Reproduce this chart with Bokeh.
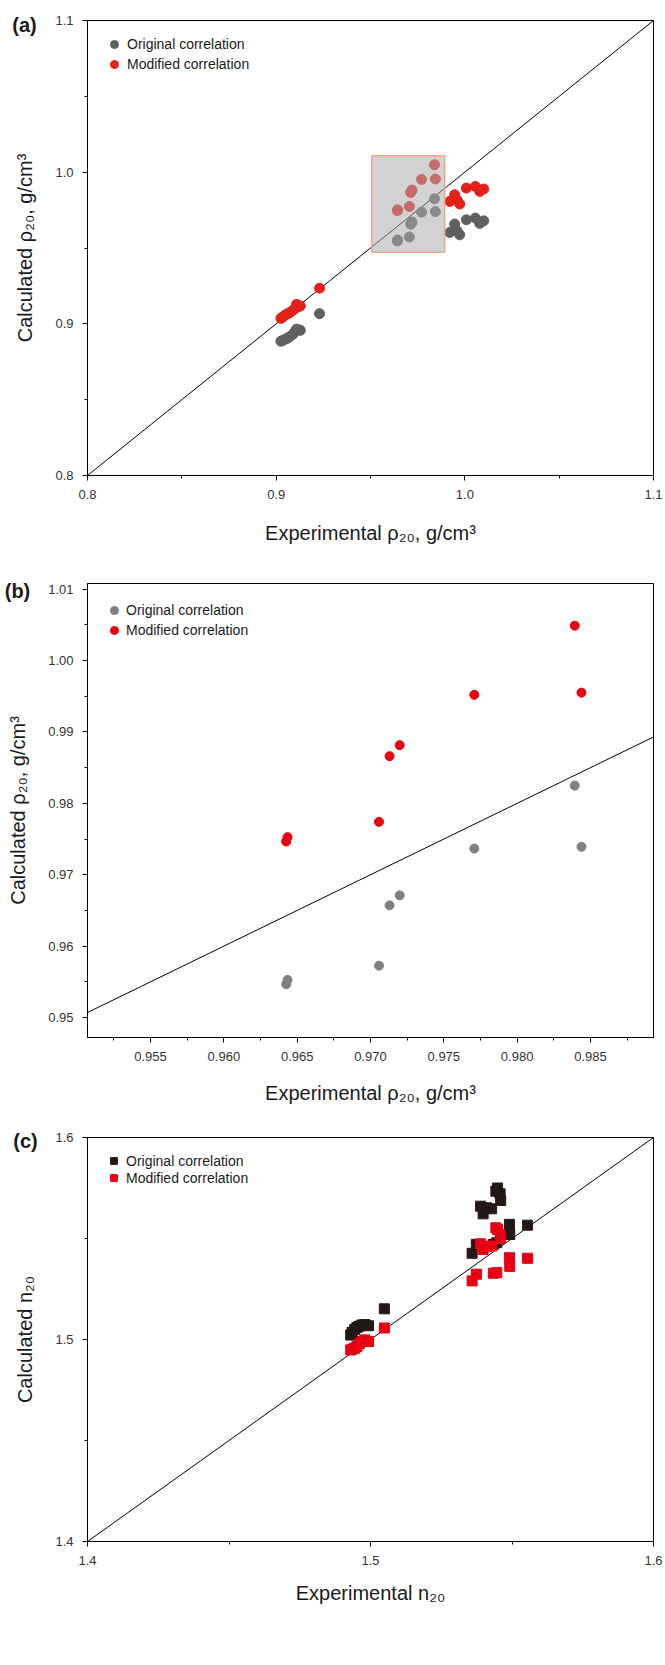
from bokeh.plotting import figure
from bokeh.models import Range1d, FixedTicker, NumeralTickFormatter, ColumnDataSource
from bokeh.core.properties import value
from bokeh.layouts import column
from bokeh.embed import file_html
from bokeh.resources import INLINE

# ---------------- data ----------------
# points inside the highlighted window (panel b, and box of panel a)
exp_box = [0.96425, 0.96434, 0.97058, 0.97130, 0.97199, 0.97708, 0.98393, 0.98439]
orig_box = [0.95466, 0.95526, 0.95726, 0.96571, 0.96711, 0.97367, 0.98249, 0.97392]
mod_box = [0.97466, 0.97526, 0.97741, 0.98661, 0.98815, 0.99521, 1.00489, 0.99551]

# remaining density points of panel a
exp_lo = [0.9025, 0.9035, 0.9048, 0.9060, 0.9072, 0.9088, 0.9100, 0.9108, 0.9120, 0.9128, 0.9230]
orig_lo = [0.8885, 0.8890, 0.8898, 0.8905, 0.8915, 0.8930, 0.8950, 0.8965, 0.8960, 0.8957, 0.9067]
mod_lo = [0.9036, 0.9045, 0.9058, 0.9066, 0.9074, 0.9088, 0.9100, 0.9128, 0.9114, 0.9118, 0.9235]
exp_hi = [0.9920, 0.9946, 0.9959, 0.9973, 1.0008, 1.0056, 1.0079, 1.0100]
orig_hi = [0.9602, 0.9658, 0.9613, 0.9587, 0.9686, 0.9697, 0.9662, 0.9679]
mod_hi = [0.9807, 0.9851, 0.9816, 0.9790, 0.9895, 0.9906, 0.9873, 0.9889]

# zoom window (panel b range)
box_x = [0.9507, 0.9893]
box_y = [0.9472, 1.0108]

# refractive index (panel c)
exp_n = [1.4930, 1.4935, 1.4944, 1.4952, 1.4960, 1.4970, 1.4980, 1.4993, 1.5049,
         1.5449, 1.5443, 1.5458, 1.5460, 1.5389, 1.5398, 1.5428, 1.5410, 1.5491,
         1.5555, 1.5492, 1.5359, 1.5374, 1.5434, 1.5446]
orig_n = [1.5022, 1.5035, 1.5050, 1.5060, 1.5066, 1.5072, 1.5074, 1.5068, 1.5152,
          1.5750, 1.5734, 1.5721, 1.5688, 1.5660, 1.5622, 1.5647, 1.5652, 1.5570,
          1.5566, 1.5520, 1.5427, 1.5471, 1.5471, 1.5479]
mod_n = [1.4948, 1.4952, 1.4957, 1.4965, 1.4978, 1.4990, 1.4998, 1.4990, 1.5057,
         1.5545, 1.5553, 1.5520, 1.5500, 1.5474, 1.5446, 1.5463, 1.5460, 1.5405,
         1.5402, 1.5362, 1.5290, 1.5323, 1.5328, 1.5331]

# axes
a_range = [0.8, 1.1]
a_ticks = [0.8, 0.9, 1.0, 1.1]
a_minor = [0.85, 0.95, 1.05]
b_xticks = [0.955, 0.960, 0.965, 0.970, 0.975, 0.980, 0.985]
b_xminor = [0.9525, 0.9575, 0.9625, 0.9675, 0.9725, 0.9775, 0.9825, 0.9875]
b_yticks = [0.95, 0.96, 0.97, 0.98, 0.99, 1.00, 1.01]
b_yminor = [0.955, 0.965, 0.975, 0.985, 0.995, 1.005]
c_range = [1.4, 1.6]
c_ticks = [1.4, 1.5, 1.6]
c_minor = [1.45, 1.55]

series_names = ["Original correlation", "Modified correlation"]
panel_tags = ["(a)", "(b)", "(c)"]
rho_x = "Experimental ρ₂₀, g/cm³"
rho_y = "Calculated ρ₂₀, g/cm³"
n_x = "Experimental n₂₀"
n_y = "Calculated n₂₀"

FONT = "Liberation Sans"


def make_fig(height, top, bottom, xr, yr, xt, xm, yt, ym, xfmt, yfmt,
             xlabel, ylabel, xl_stand, yl_stand):
    p = figure(width=665, height=height, output_backend="svg", toolbar_location=None,
               x_range=Range1d(*xr), y_range=Range1d(*yr),
               min_border_left=87, min_border_right=12,
               min_border_top=top, min_border_bottom=bottom)
    p.grid.visible = False
    p.outline_line_color = "black"
    p.outline_line_alpha = 1
    p.outline_line_width = 1
    p.background_fill_color = "white"
    p.border_fill_color = "white"
    p.xaxis.ticker = FixedTicker(ticks=xt, minor_ticks=xm)
    p.yaxis.ticker = FixedTicker(ticks=yt, minor_ticks=ym)
    p.xaxis.formatter = NumeralTickFormatter(format=xfmt)
    p.yaxis.formatter = NumeralTickFormatter(format=yfmt)
    for ax in (p.xaxis[0], p.yaxis[0]):
        ax.axis_line_color = "black"
        ax.major_tick_line_color = "black"
        ax.minor_tick_line_color = "black"
        ax.major_tick_out = 5
        ax.major_tick_in = 0
        ax.minor_tick_out = 3
        ax.minor_tick_in = 0
        ax.major_label_text_font = FONT
        ax.major_label_text_font_size = "13px"
        ax.major_label_text_color = "#333333"
        ax.axis_label_text_font = FONT
        ax.axis_label_text_font_size = "20px"
        ax.axis_label_text_font_style = "normal"
        ax.axis_label_text_color = "#1a1a1a"
    p.xaxis.major_label_standoff = 9
    p.yaxis.major_label_standoff = 9
    p.xaxis.axis_label = xlabel
    p.yaxis.axis_label = ylabel
    p.xaxis.axis_label_standoff = xl_stand
    p.yaxis.axis_label_standoff = yl_stand
    return p


def style_legend(p, pad, gw, lh, standoff):
    lg = p.legend[0]
    lg.location = "top_left"
    lg.margin = 0
    lg.padding = pad
    lg.spacing = 0
    lg.glyph_width = gw
    lg.glyph_height = lh
    lg.label_height = lh
    lg.label_standoff = standoff
    lg.border_line_alpha = 0
    lg.background_fill_alpha = 0
    lg.label_text_font = FONT
    lg.label_text_font_size = "14px"
    lg.label_text_color = "#1a1a1a"


def tag(p, x, y, text, dx, dy):
    # panel letter, drawn at overlay level so it may sit beside the frame
    p.text(x=[x], y=[y], text=[text], x_offset=dx, y_offset=dy,
           text_font=value(FONT), text_font_size="20px", text_font_style="bold",
           text_align="center", text_baseline="middle", text_color="#1a1a1a",
           level="overlay")


# ---------------- panel (a) ----------------
pa = make_fig(555, 20, 80, a_range, a_range, a_ticks, a_minor, a_ticks, a_minor,
              "0.0", "0.0", rho_x, rho_y, 20, 16)
src_a = ColumnDataSource(dict(x=exp_lo + exp_box + exp_hi, o=orig_lo + orig_box + orig_hi,
                              m=mod_lo + mod_box + mod_hi))
pa.line(x=a_range, y=a_range, line_color="black", line_width=1)
pa.scatter("x", "o", source=src_a, marker="circle", size=10, fill_color="#606060",
           line_color="#606060", legend_label=series_names[0])
pa.scatter("x", "m", source=src_a, marker="circle", size=10, fill_color="#e52019",
           line_color="#e52019", legend_label=series_names[1])
pa.quad(left=[box_x[0]], right=[box_x[1]], bottom=[box_y[0]], top=[box_y[1]],
        fill_color="#acacac", fill_alpha=0.54, line_color="#f3a584", line_width=1.5)
style_legend(pa, 14, 26, 20, 0)
tag(pa, a_range[0], a_range[1], panel_tags[0], -63, 4)

# ---------------- panel (b) ----------------
pb = make_fig(555, 28, 73, box_x, box_y, b_xticks, b_xminor, b_yticks, b_yminor,
              "0.000", "0.00", rho_x, rho_y, 18, 16)
pb.line(x=box_x, y=box_x, line_color="black", line_width=1)
pb.scatter(exp_box, orig_box, marker="circle", size=9, fill_color="#808080",
           line_color="#808080", legend_label=series_names[0])
pb.scatter(exp_box, mod_box, marker="circle", size=9, fill_color="#e60012",
           line_color="#e60012", legend_label=series_names[1])
style_legend(pb, 17, 20, 20, 2)
tag(pb, box_x[0], box_y[1], panel_tags[1], -70, 7)

# ---------------- panel (c) ----------------
pc = make_fig(555, 27, 124, c_range, c_range, c_ticks, c_minor, c_ticks, c_minor,
              "0.0", "0.0", n_x, n_y, 14, 16)
pc.line(x=c_range, y=c_range, line_color="black", line_width=1)
pc.scatter(exp_n, orig_n, marker="square", size=10, fill_color="#231815",
           line_color="#231815", legend_label=series_names[0])
pc.scatter(exp_n, mod_n, marker="square", size=10, fill_color="#e60012",
           line_color="#e60012", legend_label=series_names[1])
style_legend(pc, 15, 23, 17, 1)
tag(pc, c_range[0], c_range[1], panel_tags[2], -62, 3)

layout = column(pa, pb, pc, spacing=0)
open("out.html", "w").write(file_html(layout, INLINE))
